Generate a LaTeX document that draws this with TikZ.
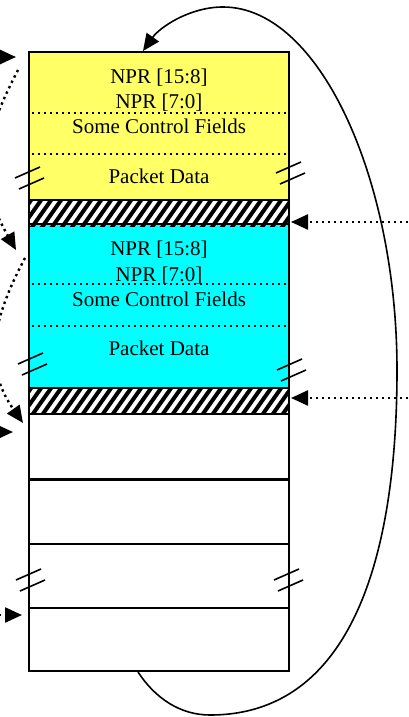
\documentclass[tikz,border=0pt]{standalone}
\usepackage{fontspec}
\setmainfont{Liberation Serif}
\usetikzlibrary{arrows.meta}

\definecolor{pktyellow}{RGB}{255,255,102}
\definecolor{pktcyan}{RGB}{0,255,255}

\begin{document}
\begin{tikzpicture}[x=1pt, y=-1pt, font=\fontsize{21}{24}\selectfont]

    % Styles for labels, separators and pointers
    \tikzset{lbl/.style={inner sep=0pt, anchor=base},
      fieldsep/.style={line width=2pt, dash pattern=on 2pt off 4pt},
      ptr/.style={line width=2.4pt, dash pattern=on 2.4pt off 3.6pt,
        -{Triangle[length=17pt, width=15pt]}},
      brk/.style={line width=1.6pt},
      wrap/.style={line width=1.6pt, -{Triangle[length=17pt, width=15pt]}}}

    % Horizontal extent of the buffer column
    \def\xl{29}
    \def\xr{289}

    \useasboundingbox (0,0) rectangle (409,717);
    \clip (0,0) rectangle (409,717);

    % --- Packet areas ---
    \fill[pktyellow] (\xl,52) rectangle (\xr,200);
    \fill[pktcyan] (\xl,224) rectangle (\xr,388);

    % Hatched gaps between packets
    \foreach \ytop in {200, 388} {
      \begin{scope}
        \clip (\xl,\ytop) rectangle (\xr,\ytop+26);
        \foreach \x in {0,10,...,290}
          \draw[line width=4pt] (\x,\ytop+30) -- ++(24,-34);
      \end{scope}
    }

    % Field separators
    \foreach \y in {113, 154, 284, 326}
      \draw[fieldsep] (\xl+3,\y) -- (\xr-3,\y);

    % Outline and row borders
    \foreach \y in {200, 224, 388, 414, 544, 608}
      \draw[line width=2pt] (\xl,\y) -- (\xr,\y);
    \draw[line width=3pt] (\xl,479) -- (\xr,479);
    \draw[line width=2pt] (\xl,52) rectangle (\xr,671);

    % --- Field labels ---
    \node[lbl] (ynprhi) at (159,83) {NPR [15:8]};
    \node[lbl] (ynprlo) at (159,108) {NPR [7:0]};
    \node[lbl] (yctrl) at (159,133) {Some Control Fields};
    \node[lbl] (ydata) at (159,183) {Packet Data};

    \node[lbl] (cnprhi) at (159,255) {NPR [15:8]};
    \node[lbl] (cnprlo) at (159,281) {NPR [7:0]};
    \node[lbl] (cctrl) at (159,306) {Some Control Fields};
    \node[lbl] (cdata) at (159,355) {Packet Data};

    % Break marks on both sides
    \foreach \bx/\by in {15/178, 276/173, 18/364, 277/370, 16/580, 274/580} {
      \draw[brk] (\bx,\by) -- ++(25,-11);
      \draw[brk] (\bx+4,\by+11) -- ++(25,-11);
    }

    % --- Pointers ---
    \coordinate (topin) at (16,57);
    \coordinate (midin) at (13,432);
    \coordinate (lowin) at (22,615);
    \draw[ptr] (-30,57) -- (topin);
    \draw[ptr] (-30,432) -- (midin);
    \draw[ptr] (-31,615) -- (lowin);

    \coordinate (nextA) at (18,70);
    \coordinate (nextAend) at (16,250);
    \coordinate (nextB) at (25,258);
    \coordinate (nextBend) at (23,423);
    \draw[ptr] (nextA) .. controls (-19,141) and (-24,180) .. (nextAend);
    \draw[ptr] (nextB) .. controls (-8,320) and (-17,366) .. (nextBend);

    \coordinate (gapA) at (291,222);
    \coordinate (gapB) at (291,398);
    \draw[ptr] (420,222) -- (gapA);
    \draw[ptr] (420,398) -- (gapB);

    % Wrap-around from the end of the buffer to its start
    \coordinate (bufend) at (138,672);
    \coordinate (bufstart) at (143,51);
    \draw[wrap] (bufend) .. controls (155,698) and (180,715) .. (210,715)
      .. controls (350,715) and (397,560) .. (397,370)
      .. controls (397,180) and (320,7) .. (223,7)
      .. controls (190,7) and (160,27) .. (bufstart);
\end{tikzpicture}
\end{document}
